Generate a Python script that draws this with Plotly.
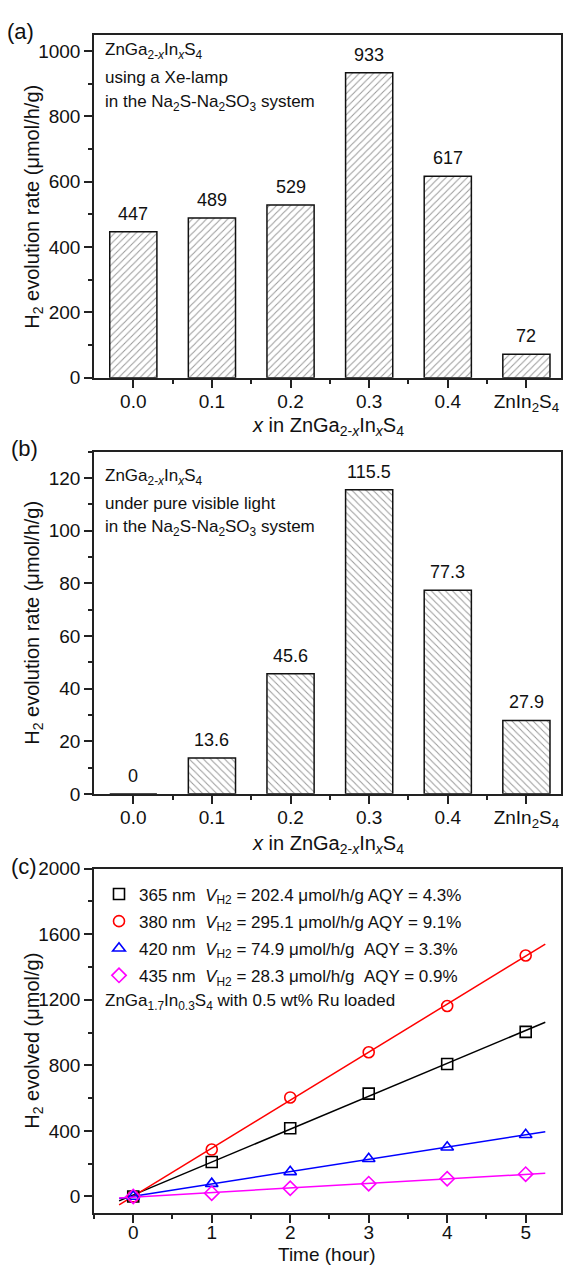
import numpy as np
import plotly.graph_objects as go

# ---------------- data ----------------
categories = ["0.0", "0.1", "0.2", "0.3", "0.4", "ZnIn<sub>2</sub>S<sub>4</sub>"]
rate_xe = [447, 489, 529, 933, 617, 72]
rate_vis = [0, 13.6, 45.6, 115.5, 77.3, 27.9]

time_h = [0, 1, 2, 3, 4, 5]
evolved_365 = [0, 210, 416, 627, 808, 1004]
evolved_380 = [0, 286, 604, 880, 1162, 1470]
evolved_420 = [0, 78, 150, 230, 300, 376]
evolved_435 = [0, 20, 50, 78, 108, 136]

series_names = [
    "365 nm  <i>V</i><sub>H2</sub> = 202.4 μmol/h/g AQY = 4.3%",
    "380 nm  <i>V</i><sub>H2</sub> = 295.1 μmol/h/g AQY = 9.1%",
    "420 nm  <i>V</i><sub>H2</sub> = 74.9 μmol/h/g \u00a0AQY = 3.3%",
    "435 nm  <i>V</i><sub>H2</sub> = 28.3 μmol/h/g \u00a0AQY = 0.9%",
]
series_colors = ["#000000", "#ff0000", "#0000ff", "#ff00ff"]
series_symbols = ["square-open", "circle-open", "triangle-up-open", "diamond-open"]

# ---------------- layout helpers ----------------
W, H = 564, 1274
ML, MR = 94, 3
PW = W - ML - MR
FONT = "Arial, Liberation Sans, sans-serif"
AX = "#222"


def px(x):
    return (x - ML) / PW


def py(y):
    return 1 - y / H


fig = go.Figure()

xpos = list(range(len(categories)))

bar_marker = lambda shape: dict(
    color="white", line=dict(color="#111", width=1.5),
    pattern=dict(shape=shape, size=5, solidity=0.2, fgcolor="#333", bgcolor="white"))

fig.add_trace(go.Bar(x=xpos, y=rate_xe, width=0.6, xaxis="x", yaxis="y",
                     marker=bar_marker("/"), showlegend=False, hoverinfo="skip"))
fig.add_trace(go.Bar(x=xpos, y=rate_vis, width=0.6, xaxis="x2", yaxis="y2",
                     marker=bar_marker("\\"), showlegend=False, hoverinfo="skip"))

# panel (c)
all_series = [evolved_365, evolved_380, evolved_420, evolved_435]
xfit = np.array([-0.18, 5.25])
for vals, col in zip(all_series, series_colors):
    k, b = np.polyfit(time_h, vals, 1)
    fig.add_trace(go.Scatter(x=xfit, y=k * xfit + b, mode="lines", xaxis="x3", yaxis="y3",
                             line=dict(color=col, width=1.5), showlegend=False, hoverinfo="skip"))
for i, (vals, name, col, sym) in enumerate(zip(all_series, series_names, series_colors, series_symbols)):
    fig.add_trace(go.Scatter(x=time_h, y=vals, mode="markers", xaxis="x3", yaxis="y3", name=name,
                             legendgroup=f"g{i}",
                             marker=dict(symbol=sym, size=11, color=col, line=dict(color=col, width=1.6)),
                             showlegend=True, hoverinfo="skip"))

minor_common = dict(ticklen=4, tickwidth=1.5, tickcolor=AX, ticks="outside")
axis_common = dict(showline=True, linecolor=AX, linewidth=1.5, mirror=True,
                   ticks="outside", ticklen=8, tickwidth=1.5, tickcolor=AX,
                   showgrid=False, zeroline=False,
                   tickfont=dict(family=FONT, size=19, color="#111"))

bar_x = dict(axis_common, range=[-0.5, 5.44], tickmode="array", tickvals=xpos, ticktext=categories,
             ticklabelstandoff=-2,
             minor=dict(minor_common, tickmode="array", tickvals=[v + 0.5 for v in xpos[:-1]]))

fig.update_layout(
    width=W, height=H,
    margin=dict(l=ML, r=MR, t=0, b=0),
    paper_bgcolor="white", plot_bgcolor="white",
    font=dict(family=FONT, size=17, color="#111"),
    xaxis=dict(bar_x, domain=[0, 1], anchor="y"),
    yaxis=dict(axis_common, domain=[py(374), py(25)], anchor="x", range=[0, 1050],
               tickmode="linear", tick0=0, dtick=200, minor=dict(minor_common, dtick=100)),
    xaxis2=dict(bar_x, domain=[0, 1], anchor="y2"),
    yaxis2=dict(axis_common, domain=[py(797), py(449)], anchor="x2", range=[0, 130],
                tickmode="linear", tick0=0, dtick=20, minor=dict(minor_common, dtick=10)),
    xaxis3=dict(axis_common, domain=[0, 1], anchor="y3", range=[-0.5, 5.45],
                tickmode="linear", tick0=0, dtick=1, ticklabelstandoff=-6,
                minor=dict(minor_common, dtick=0.5)),
    yaxis3=dict(axis_common, domain=[py(1223), py(873)], anchor="x3", range=[-100, 2000],
                tickmode="linear", tick0=0, dtick=400, minor=dict(minor_common, dtick=200)),
    legend=dict(x=px(99), y=py(881), xanchor="left", yanchor="top",
                bgcolor="rgba(0,0,0,0)", borderwidth=0,
                font=dict(family=FONT, size=17, color="#111"),
                itemwidth=30, tracegroupgap=2),
)

ann = []
for i, v in enumerate(rate_xe):
    ann.append(dict(x=xpos[i], y=v, xref="x", yref="y", text=f"{v:g}", showarrow=False,
                    yanchor="bottom", yshift=6, font=dict(size=18)))
for i, v in enumerate(rate_vis):
    ann.append(dict(x=xpos[i], y=v, xref="x2", yref="y2", text=f"{v:g}", showarrow=False,
                    yanchor="bottom", yshift=6, font=dict(size=18)))


def txt(x, y, t, size=17, anchor="left"):
    ann.append(dict(x=px(x), y=py(y), xref="paper", yref="paper", text=t, showarrow=False,
                    xanchor=anchor, yanchor="middle", font=dict(size=size)))


txt(103, 42, "ZnGa<sub>2-<i>x</i></sub>In<sub><i>x</i></sub>S<sub>4</sub>")
txt(103, 69, "using a Xe-lamp")
txt(103, 95, "in the Na<sub>2</sub>S-Na<sub>2</sub>SO<sub>3</sub> system")
txt(103, 475, "ZnGa<sub>2-<i>x</i></sub>In<sub><i>x</i></sub>S<sub>4</sub>")
txt(103, 502, "under pure visible light")
txt(103, 527, "in the Na<sub>2</sub>S-Na<sub>2</sub>SO<sub>3</sub> system")
txt(103, 1009, "ZnGa<sub>1.7</sub>In<sub>0.3</sub>S<sub>4</sub> with 0.5 wt% Ru loaded")

txt(5, 22, "(a)", size=22)
txt(9, 446, "(b)", size=22)
txt(9, 871, "(c)", size=22)

xt = "<i>x</i> in ZnGa<sub>2-<i>x</i></sub>In<sub><i>x</i></sub>S<sub>4</sub>"
txt(328, 423, xt, size=20, anchor="center")
txt(328, 848, xt, size=20, anchor="center")
txt(326, 1265, "Time (hour)", size=19, anchor="center")

for yc, t in [(200, "H<sub>2</sub> evolution rate (μmol/h/g)"),
              (623, "H<sub>2</sub> evolution rate (μmol/h/g)"),
              (1048, "H<sub>2</sub> evolved (μmol/g)")]:
    ann.append(dict(x=px(34), y=py(yc), xref="paper", yref="paper", text=t, showarrow=False,
                    textangle=-90, xanchor="center", yanchor="middle", font=dict(size=20)))

fig.update_layout(annotations=ann)

fig.write_html("out.html", config={"displayModeBar": False})

# remove the default page margin so the figure sits at the window origin
with open("out.html", "r", encoding="utf-8") as f:
    html = f.read()
html = html.replace("<body>", '<body style="margin:0;padding:0;overflow:hidden">', 1)
with open("out.html", "w", encoding="utf-8") as f:
    f.write(html)
